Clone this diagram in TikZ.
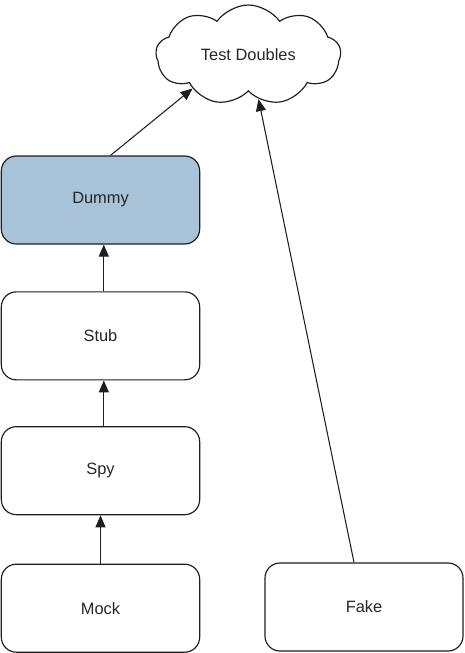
\documentclass[tikz,border=0pt]{standalone}
\usepackage{fontspec}
\setmainfont{Liberation Sans}
\usepackage{tikz}
\usetikzlibrary{arrows.meta}
\usetikzlibrary{positioning,shapes.symbols}
\definecolor{dummyblue}{RGB}{168,195,216}
\definecolor{linegray}{RGB}{30,30,30}
\definecolor{textgray}{RGB}{38,38,38}

\begin{document}
\begin{tikzpicture}[
    doublebox/.style={draw=linegray,line width=1pt,rounded corners=0.45cm,
      minimum width=5.95cm,minimum height=2.64cm,
      font=\fontsize{14}{16}\selectfont,text=textgray},
    isa/.style={-{Triangle[length=3.6mm,width=3mm]},line width=0.9pt,linegray}]
    \useasboundingbox (0,0) rectangle (13.95,-19.59);
    % the cloud
    \node[cloud,draw=linegray,line width=1pt,cloud puffs=9,cloud puff arc=110,
          aspect=2.1,minimum width=5.55cm,minimum height=3cm,inner sep=0pt,
          font=\fontsize{14}{16}\selectfont,text=textgray]
      (doubles) at (7.45,-1.65) {Test Doubles};
    % the stack of kinds
    \node[doublebox,fill=dummyblue] (dummy) at (3.015,-6.0) {Dummy};
    \node[doublebox,below=1.4cm of dummy] (stub) {Stub};
    \node[doublebox,below=1.37cm of stub] (spy) {Spy};
    \node[doublebox,below=1.45cm of spy] (mock) {Mock};
    \node[doublebox,minimum width=5.94cm] (fake) at (10.92,-18.21) {Fake};
    % the arrows
    \draw[isa] ([xshift=0.3cm]dummy.north) -- (doubles.211);
    \draw[isa] ([xshift=0.1cm]stub.north) -- ([xshift=0.1cm]dummy.south);
    \draw[isa] ([xshift=0.1cm]spy.north) -- ([xshift=0.1cm]stub.south);
    \draw[isa] (mock.north) -- (spy.south);
    \draw[isa] ([xshift=-0.3cm]fake.north) -- (doubles.283);
  \end{tikzpicture}
\end{document}
